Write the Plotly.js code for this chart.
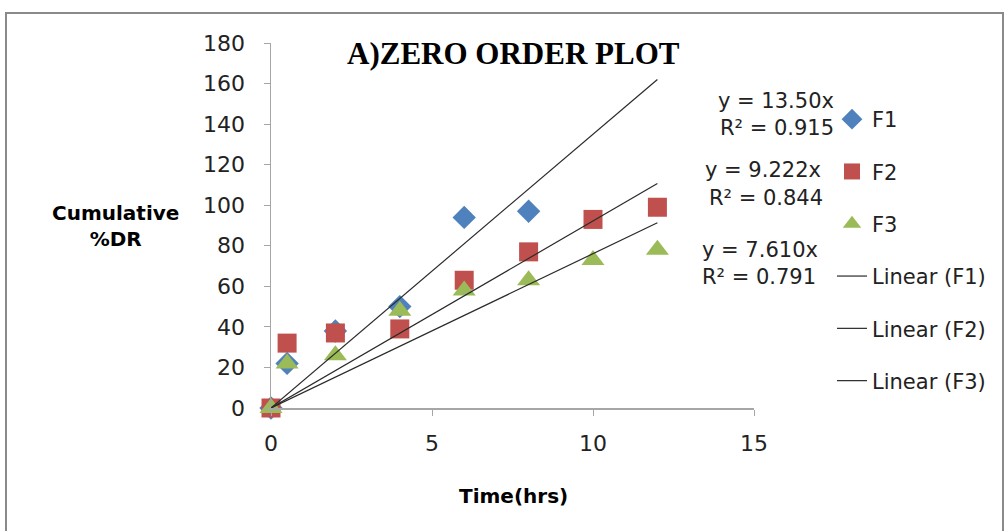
<!DOCTYPE html>
<html><head><meta charset="utf-8">
<script src="https://cdn.plot.ly/plotly-3.0.1.min.js"></script>
<style>html,body{margin:0;padding:0;background:#fff;}#chart{width:1007px;height:531px;}</style>
</head><body><div id="chart"></div>
<script>
const seriesNames = ["F1", "F2", "F3"];
const timeF1 = [0, 0.5, 2, 4, 6, 8];
const valuesF1 = [0, 22, 38, 50, 94, 97];
const timeF2 = [0, 0.5, 2, 4, 6, 8, 10, 12];
const valuesF2 = [0, 32, 37, 39, 63, 77, 93, 99];
const timeF3 = [0, 0.5, 2, 4, 6, 8, 10, 12];
const valuesF3 = [0, 22, 26, 48, 58, 63, 73, 78];
const slopes = [13.50, 9.222, 7.610];
const eqLabels = ["y = 13.50x", "y = 9.222x", "y = 7.610x"];
const r2Labels = ["R² = 0.915", "R² = 0.844", "R² = 0.791"];
const trendRange = [0, 12];
const yTicks = [0, 20, 40, 60, 80, 100, 120, 140, 160, 180];
const xTicks = [0, 5, 10, 15];

const font = "'DejaVu Sans', sans-serif";
const colors = ["#4F81BD", "#C0504D", "#9BBB59"];
const symbols = ["diamond", "square", "triangle-up"];
const sizes = [18, 19, 20];
const xs = [timeF1, timeF2, timeF3];
const ys = [valuesF1, valuesF2, valuesF3];

const traces = [];
for (let i = 0; i < 3; i++) {
  traces.push({
    x: xs[i], y: ys[i], type: "scatter", mode: "markers", name: seriesNames[i],
    marker: {color: colors[i], symbol: symbols[i], size: sizes[i], line: {width: 0}},
    cliponaxis: false, legendgroup: "g" + i
  });
}
for (let i = 0; i < 3; i++) {
  traces.push({
    x: trendRange, y: trendRange.map(t => slopes[i] * t), type: "scatter", mode: "lines",
    name: "Linear (" + seriesNames[i] + ")", line: {color: "#2a2a2a", width: 1.2},
    cliponaxis: false, legendgroup: "l" + i
  });
}

// pixel helpers for layout placement (plot area 271..754 x, 43..408 y)
const L = 271, R = 754, T = 43, B = 408;
const px = v => (v - L) / (R - L);
const py = v => (B - v) / (B - T);

const annotations = [
  {x: px(513), y: py(54), text: "<b>A)ZERO ORDER PLOT</b>", xanchor: "center",
    font: {family: "'Liberation Serif', 'Times New Roman', serif", size: 31, color: "#000"}},
  {x: px(115), y: py(226), text: "<b>Cumulative<br>%DR</b>", xanchor: "center", font: {family: font, size: 20, color: "#000"}},
  {x: px(513), y: py(496), text: "<b>Time(hrs)</b>", xanchor: "center", font: {family: font, size: 20, color: "#000"}},
  {x: px(716), y: py(101), text: eqLabels[0], xanchor: "left"},
  {x: px(718), y: py(128), text: r2Labels[0], xanchor: "left"},
  {x: px(703), y: py(170), text: eqLabels[1], xanchor: "left"},
  {x: px(707), y: py(198), text: r2Labels[1], xanchor: "left"},
  {x: px(700), y: py(250), text: eqLabels[2], xanchor: "left"},
  {x: px(700), y: py(277), text: r2Labels[2], xanchor: "left"}
].map(a => Object.assign({xref: "paper", yref: "paper", showarrow: false, yanchor: "middle",
  font: {family: font, size: 21, color: "#222"}}, a));

const layout = {
  width: 1007, height: 531,
  margin: {l: L, r: 1007 - R, t: T, b: 531 - B},
  paper_bgcolor: "#fff", plot_bgcolor: "#fff",
  showlegend: true,
  legend: {x: px(832), y: py(99), xanchor: "left", yanchor: "top", traceorder: "grouped",
    tracegroupgap: 22, font: {family: font, size: 21, color: "#222"}, bgcolor: "rgba(0,0,0,0)"},
  xaxis: {range: [0, 15], tickvals: xTicks, ticktext: xTicks.map(String), showgrid: false, zeroline: false,
    showline: true, linecolor: "#a6a6a6", linewidth: 1.5, ticks: "outside", ticklen: 6, tickcolor: "#a6a6a6",
    ticklabelstandoff: 9, tickfont: {family: font, size: 22, color: "#222"}, fixedrange: true},
  yaxis: {range: [0, 180], tickvals: yTicks, ticktext: yTicks.map(String), showgrid: false, zeroline: false,
    showline: true, linecolor: "#a6a6a6", linewidth: 1.5, ticks: "outside", ticklen: 6, tickcolor: "#a6a6a6",
    ticklabelstandoff: 14, tickfont: {family: font, size: 22, color: "#222"}, fixedrange: true},
  annotations: annotations,
  shapes: [{type: "rect", xref: "paper", yref: "paper", x0: px(6), x1: px(1003), y0: py(545), y1: py(13),
    line: {color: "#8a8a8a", width: 2}, fillcolor: "rgba(0,0,0,0)"}]
};
Plotly.newPlot("chart", traces, layout, {displayModeBar: false, staticPlot: true});
</script></body></html>
